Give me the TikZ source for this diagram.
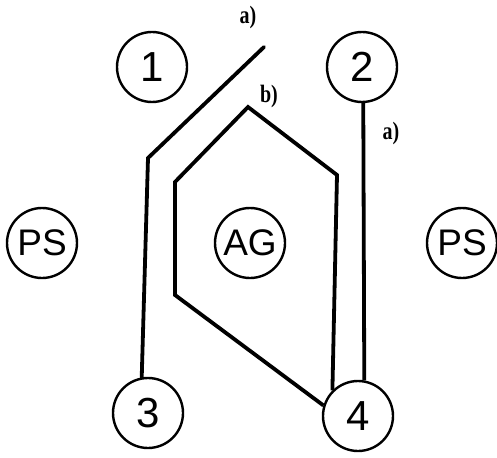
\documentclass[tikz,border=0pt]{standalone}
\usepackage{fontspec}
\setmainfont{Liberation Sans}
\newfontfamily\labfont{Liberation Serif}
\begin{document}
\begin{tikzpicture}[x=1pt,y=-1pt,
  station/.style={circle,draw,line width=2.4pt,minimum size=70pt,inner sep=0pt,font=\fontsize{42}{42}\selectfont},
  wire/.style={line width=3.8pt,line join=miter},
  lab/.style={font=\labfont\bfseries\fontsize{25}{25}\selectfont,inner sep=0pt}]
\useasboundingbox (0,0) rectangle (497,457);
\node[station] (c1) at (152,67) {1};
\node[station] (c2) at (362,67) {2};
\node[station] (c3) at (148,413) {3};
\node[station] (c4) at (358,416) {4};
\node[station,font=\fontsize{37}{37}\selectfont] (psl) at (42,243) {PS};
\node[station,font=\fontsize{37}{37}\selectfont] (ag) at (250,243) {AG};
\node[station,font=\fontsize{37}{37}\selectfont] (psr) at (462,243) {PS};
\coordinate (atop) at (264,47);
\coordinate (abend) at (148,158);
\draw[wire,line cap=round] (atop) -- (abend) -- (c3.100);
\draw[wire] (c2.-88) -- (c4.80);
\coordinate (btop) at (248,107);
\coordinate (bright) at (337,175);
\coordinate (bleft) at (175,182);
\coordinate (blow) at (175,295);
\draw[wire] (c4.135) -- (bright) -- (btop) -- (bleft) -- (blow) -- (c4.163);
\node[lab] (la1) at (248,17) {\scalebox{0.8}[1]{a)}};
\node[lab] (lb) at (269,96) {\scalebox{0.8}[1]{b)}};
\node[lab] (la2) at (391,133) {\scalebox{0.8}[1]{a)}};
\end{tikzpicture}
\end{document}
